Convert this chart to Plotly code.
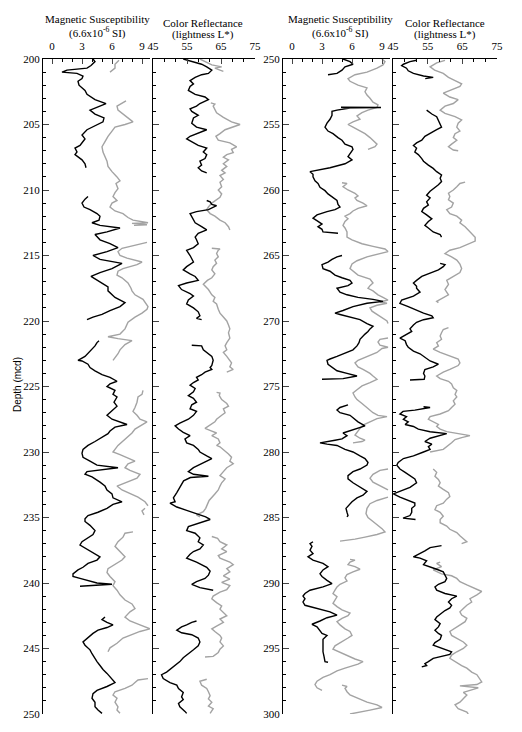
import plotly.graph_objects as go

# ---------------- data: [depth (mcd), value] pairs, None = gap ----------------
ms_top_black = [
 [200.0,4.1],[200.2,4.3],[200.5,3.9],[200.7,3.5],[200.85,1.5],[201.0,1.0],[201.1,2.5],[201.3,3.1],[201.5,3.0],[201.7,2.6],
 [202.0,2.7],[202.4,3.3],[202.7,3.5],[203.1,4.3],[203.4,5.4],[203.6,4.8],[203.9,3.8],[204.2,4.3],[204.5,5.2],[204.8,5.1],
 [205.2,4.1],[205.4,3.5],[205.8,3.0],[206.1,3.3],[206.3,3.1],[206.6,2.8],[206.8,2.3],[207.1,2.5],[207.3,2.3],[207.7,3.0],
 [208.0,3.3],[208.3,3.4], None,
 [210.5,3.6],[210.7,3.3],[211.0,3.0],[211.3,3.2],[211.5,3.8],[211.8,4.5],[212.0,4.8],[212.3,4.7],[212.5,4.0],[212.7,4.8],
 [212.9,6.8],[213.2,5.5],[213.4,4.3],[213.8,4.8],[214.1,5.8],[214.4,6.6],[214.7,5.5],[215.0,4.1],[215.3,4.8],[215.6,7.0],
 [216.0,6.0],[216.3,4.8],[216.6,3.9],[217.0,4.8],[217.4,5.6],[217.7,5.6],[218.0,6.0],[218.2,6.3],[218.6,7.3],[218.9,6.8],
 [219.2,5.8],[219.5,5.0],[219.7,4.1],[219.9,3.5], None,
 [221.5,4.7],[221.65,4.5],[221.9,4.3],[222.2,3.9],[222.5,3.5],[222.7,3.3],[223.0,2.6],[223.05,3.0],[223.3,3.6],[223.55,3.8],
 [223.8,4.3],[224.1,5.0],[224.3,5.8],[224.6,6.5],[224.8,5.8],[225.0,5.5],[225.3,6.3],[225.6,6.1],[225.8,6.5],[226.2,6.2],
 [226.5,6.5],[226.85,6.0],[227.2,5.5],[227.5,6.0],[227.9,7.5],[228.1,6.3],[228.4,5.8],[228.6,5.6],[229.0,4.8],[229.2,4.3],
 [229.5,3.6],[229.8,3.1],[230.1,3.0],[230.4,3.1],[230.7,3.8],[231.0,4.5],[231.2,6.6],[231.35,4.8],[231.5,3.5],[231.7,3.3],
 [231.9,4.0],[232.3,4.8],[232.6,5.3],[232.9,5.5],[233.2,6.0],[233.5,6.1],[233.8,7.0],[234.0,6.1],[234.3,5.5],[234.6,4.6],
 [234.85,3.6],[235.1,3.3],[235.3,3.3],[235.6,3.8],[236.0,4.3],[236.3,4.1],[236.55,3.6],[236.85,3.0],[237.1,2.8],[237.4,3.5],
 [237.75,4.3],[238.0,4.8],[238.25,4.5],[238.5,3.6],[238.8,3.1],[239.0,2.6],[239.3,2.1],[239.5,2.1],[239.65,2.8],[239.85,3.8],
 [240.0,4.5],[240.1,6.0],[240.25,2.8], None,
 [242.6,5.3],[242.8,5.0],[243.0,5.5],[243.2,6.1],[243.4,5.5],[243.6,4.6],[243.85,4.1],[244.2,3.6],[244.5,3.1],[244.75,3.3],
 [245.1,3.8],[245.4,4.0],[245.8,4.3],[246.0,4.5],[246.3,4.8],[246.6,5.1],[246.9,5.5],[247.3,6.0],[247.6,6.3],[247.9,5.5],
 [248.2,4.5],[248.45,4.1],[248.8,4.0],[249.1,4.3],[249.45,4.3],[249.7,4.6],[249.95,5.0],
]
ms_top_gray = [
 [200.1,6.7],[200.4,6.3],[200.7,6.3],[201.0,5.8], None,
 [203.2,7.4],[203.4,7.0],[203.6,6.5],[203.9,6.6],[204.3,7.3],[204.6,7.8],[204.8,8.1],[205.0,7.3],[205.2,6.3],[205.5,6.0],
 [205.9,5.6],[206.3,5.3],[206.7,5.0],[207.1,5.1],[207.5,5.3],[207.8,5.5],[208.2,5.6],[208.6,6.0],[209.0,6.5],[209.3,6.8],
 [209.5,6.4],[209.9,6.6],[210.2,6.3],[210.5,6.1],[210.8,6.5],[211.0,6.0],[211.3,5.8],[211.6,6.3],[211.8,7.1],[212.1,7.6],
 [212.3,8.1],[212.4,9.0],[212.5,9.6],[212.55,8.0],[212.65,9.5],[212.7,8.2], None,
 [214.0,9.5],[214.2,8.5],[214.45,7.0],[214.7,6.6],[215.0,6.8],[215.2,7.5],[215.5,9.0],[215.7,8.5],[216.0,7.1],[216.2,6.6],
 [216.5,6.5],[216.7,7.0],[217.1,7.6],[217.5,7.9],[217.7,8.0],[218.0,8.3],[218.35,9.1],[218.9,9.6],[219.1,9.5],[219.4,9.0],
 [219.7,8.3],[220.1,7.6],[220.6,7.3],[221.0,6.8],[221.2,5.6],[221.35,6.6],[221.5,8.0],[221.8,7.3],[222.2,6.8],[222.5,6.6],
 [222.8,6.3],[223.0,6.1], None,
 [225.3,9.1],[225.6,9.0],[225.8,8.6],[226.2,8.5],[226.6,8.3],[226.9,8.1],[227.2,8.5],[227.5,8.8],[227.7,9.5],[228.0,8.8],
 [228.25,8.3],[228.55,8.0],[228.9,7.5],[229.2,7.1],[229.5,6.6],[229.8,6.3],[230.0,6.1],[230.2,6.8],[230.5,7.6],[230.7,8.3],
 [230.9,7.6],[231.2,7.3],[231.4,7.8],[231.7,8.8],[232.0,8.5],[232.3,7.5],[232.6,6.5],[232.9,7.0],[233.2,7.8],[233.45,8.6],
 [233.8,9.3],[234.1,9.6], None,
 [234.3,9.3],[234.5,9.0],[234.8,9.2], None,
 [236.1,8.1],[236.2,7.3],[236.5,7.1],[236.85,6.6],[237.2,6.3],[237.6,6.8],[238.0,7.3],[238.25,7.0],[238.6,6.3],[238.9,5.6],
 [239.2,5.5],[239.5,5.8],[239.9,6.3],[240.2,6.1],[240.55,6.5],[240.9,6.8],[241.3,7.3],[241.6,8.0],[241.95,8.3],[242.2,7.8],
 [242.6,7.3],[242.9,7.8],[243.2,8.8],[243.5,9.8],[243.7,8.8],[244.0,7.8],[244.2,7.1],[244.6,6.5],[244.95,5.8],[245.25,5.6], None,
 [247.3,9.6],[247.4,8.6],[247.6,8.3],[247.8,8.0],[248.05,7.3],[248.3,6.3],[248.55,6.1],[248.8,6.5],[249.1,6.3],[249.45,6.6],
 [249.7,6.5],[249.95,6.8],
]
cr_top_black = [
 [200.0,53.9],[200.2,56.9],[200.4,59.3],[200.6,60.8],[200.85,62.3],[201.1,61.3],[201.2,59.3],[201.4,57.4],[201.65,55.9],
 [201.9,56.9],[202.1,55.9],[202.4,55.4],[202.7,57.4],[202.9,60.3],[203.1,61.3],[203.4,58.8],[203.6,57.8],[203.8,55.9],
 [204.0,56.4],[204.3,58.3],[204.5,56.9],[204.9,56.4],[205.2,57.8],[205.4,60.8],[205.6,58.8],[205.9,55.9],[206.1,54.9],
 [206.3,56.4],[206.6,58.3],[206.8,60.8],[207.1,59.8],[207.3,60.8],[207.6,60.3],[207.8,58.8],[208.1,59.3],[208.3,58.3],
 [208.55,59.3],[208.7,60.8], None,
 [210.8,60.8],[210.9,61.8],[211.1,62.3],[211.2,63.7],[211.5,61.3],[211.65,57.8],[211.8,55.9],[212.2,56.9],[212.5,57.4],
 [212.8,59.3],[213.05,60.8],[213.3,58.3],[213.6,57.4],[213.8,57.8],[214.1,58.3],[214.4,56.9],[214.6,54.9],[215.0,55.9],
 [215.3,56.4],[215.5,56.9],[215.85,54.9],[216.1,53.9],[216.4,55.9],[216.6,57.4],[216.9,58.3],[217.1,54.9],[217.3,52.5],
 [217.6,53.4],[217.9,55.9],[218.1,56.9],[218.4,55.4],[218.7,54.9],[219.0,56.9],[219.3,58.3],[219.6,58.8],[219.8,57.8],
 [219.9,59.3], None,
 [221.85,56.4],[221.9,59.3],[222.2,59.8],[222.4,60.8],[222.7,62.3],[223.0,62.7],[223.4,62.3],[223.55,61.8],[223.7,62.3],
 [223.9,60.3],[224.1,59.3],[224.3,57.8],[224.5,58.3],[224.7,56.9],[224.9,55.9],[225.15,57.4],[225.4,56.9],[225.7,55.4],
 [225.9,56.9],[226.2,57.8],[226.4,56.4],[226.7,55.9],[226.9,57.8],[227.2,56.9],[227.5,55.4],[227.8,52.9],[228.0,51.5],
 [228.25,52.5],[228.5,53.9],[228.75,55.9],[229.0,54.4],[229.3,54.9],[229.5,56.9],[229.8,58.3],[230.0,58.8],[230.3,60.8],
 [230.5,62.3],[230.7,60.8],[231.0,58.3],[231.2,56.9],[231.5,55.4],[231.7,56.9],[231.85,61.3],[231.95,56.0],[232.2,54.0],
 [232.7,53.0],[233.1,52.0],[233.5,51.0],[233.8,51.5],[233.9,50.0],[234.2,52.0],[234.45,54.9],[234.7,57.8],[234.95,60.5],
 [235.15,61.8],[235.4,58.8],[235.7,55.4],[236.0,54.9],[236.2,57.4],[236.55,58.8],[236.85,58.3],[237.1,59.8],[237.4,58.8],
 [237.6,56.9],[237.8,55.9],[238.1,54.9],[238.4,57.8],[238.8,60.8],[239.1,61.8],[239.4,61.3],[239.65,60.3],[239.9,57.8],
 [240.1,56.4],[240.35,58.8],[240.55,62.7], None,
 [242.9,57.8],[243.0,56.4],[243.2,54.9],[243.35,53.4],[243.6,52.0],[243.8,53.4],[243.95,56.4],[244.2,58.3],[244.5,58.8],
 [244.8,58.3],[245.1,56.9],[245.4,55.4],[245.7,53.9],[246.0,52.9],[246.3,51.5],[246.5,50.5],[246.8,49.0],[247.0,47.5],
 [247.3,48.0],[247.6,50.0],[247.8,52.0],[248.05,52.5],[248.35,53.9],[248.7,53.4],[248.9,53.9],[249.2,52.5],[249.45,52.9],
 [249.8,54.4],[249.95,54.9],
]
cr_top_gray = [
 [200.0,58.8],[200.2,60.3],[200.45,62.3],[200.6,65.2],[200.7,63.2],[200.85,64.7],[200.95,65.7], None,
 [203.35,62.0],[203.45,63.2],[203.6,62.7],[203.9,63.2],[204.1,63.7],[204.45,65.7],[204.8,68.1],[205.0,70.6],[205.2,68.6],
 [205.4,66.2],[205.7,64.7],[205.9,63.5],[206.2,64.2],[206.4,67.6],[206.7,69.6],[206.9,68.1],[207.15,68.6],[207.3,66.7],
 [207.5,65.7],[207.7,67.2],[208.0,65.7],[208.2,66.7],[208.5,65.2],[208.7,66.2],[208.9,64.7],[209.2,65.7],[209.4,64.7],
 [209.75,65.2],[210.0,64.2],[210.3,65.2],[210.55,64.7],[210.8,63.2],[211.0,62.3],[211.3,61.3],[211.5,60.8],[211.8,61.8],
 [212.0,63.2],[212.3,64.7],[212.5,66.2],[212.8,67.2],[213.05,67.6], None,
 [214.45,62.3],[214.5,64.7],[214.6,64.2],[214.85,63.7],[215.1,64.2],[215.35,63.2],[215.6,63.7],[215.85,62.7],[216.1,62.3],
 [216.4,63.2],[216.7,62.3],[216.9,61.0],[217.2,59.8],[217.6,61.3],[218.0,62.3],[218.2,63.2],[218.5,62.7],[218.7,63.7],
 [219.1,64.2],[219.4,64.7],[219.7,65.7],[220.0,66.7],[220.3,67.2],[220.6,67.6],[220.9,67.2],[221.3,67.6],[221.65,66.7],
 [221.9,66.2],[222.2,66.7],[222.4,65.7],[222.7,66.7],[222.9,67.2],[223.2,68.1],[223.5,67.6],[223.7,68.6],[223.9,66.7], None,
 [225.45,63.7],[225.5,64.7],[225.7,64.5],[226.0,65.2],[226.3,66.7],[226.5,67.2],[226.7,65.7],[227.0,66.2],[227.2,65.2],
 [227.5,63.7],[227.7,63.2],[228.0,61.3],[228.2,60.3],[228.4,62.3],[228.55,63.7],[228.75,62.3],[229.0,64.2],[229.3,64.7],
 [229.5,63.7],[229.6,64.7],[229.9,66.2],[230.15,67.2],[230.4,68.1],[230.7,67.6],[230.9,68.6],[231.2,66.7],[231.5,65.7],
 [231.8,64.7],[232.05,66.2],[232.35,65.2],[232.6,64.7],[232.9,64.2],[233.2,63.2],[233.45,62.3],[233.7,61.5],[234.0,61.0],
 [234.3,60.5],[234.55,59.8],[234.8,57.8],[234.95,58.8], None,
 [236.45,62.3],[236.6,64.0],[236.85,64.7],[237.1,66.7],[237.4,65.2],[237.6,66.7],[237.9,64.2],[238.1,64.7],[238.4,67.6],
 [238.6,68.6],[238.9,66.7],[239.15,67.6],[239.45,65.7],[239.7,67.6],[239.95,65.2],[240.2,67.6],[240.5,66.7],[240.7,64.7],
 [241.0,62.7],[241.2,62.3],[241.5,63.7],[241.75,65.2],[242.0,64.7],[242.25,65.7],[242.5,66.7],[242.75,64.7],[243.0,65.7],
 [243.3,63.7],[243.5,62.3],[243.7,63.2],[244.0,64.7],[244.2,65.2],[244.5,64.7],[244.8,65.7],[245.05,64.7],[245.3,64.2],
 [245.6,62.7],[245.65,60.3], None,
 [247.35,60.8],[247.5,58.8],[247.8,59.3],[248.05,60.8],[248.3,61.3],[248.6,61.8],[248.85,61.3],[249.1,62.3],[249.4,61.3],
 [249.6,62.7],[249.95,61.8],
]
ms_bot_black = [
 [250.0,5.1],[250.2,5.8],[250.4,6.1],[250.6,5.3],[250.85,5.0],[251.1,4.5],[251.2,3.6], None,
 [253.68,4.9],[253.7,8.9],[253.74,5.8],[253.9,4.5],[254.0,4.0],[254.3,4.0],[254.6,3.8],[254.9,3.5],[255.2,3.3],[255.5,3.6],
 [255.7,4.1],[256.0,4.6],[256.2,5.0],[256.5,5.3],[256.7,6.0],[256.9,6.1],[257.2,5.8],[257.45,5.6],[257.7,6.0],[258.0,5.3],
 [258.3,3.8],[258.5,2.3],[258.6,1.8],[258.8,2.1],[259.0,2.1],[259.3,2.3],[259.5,2.6],[259.8,2.8],[260.05,3.3],[260.3,3.6],
 [260.55,4.0],[260.8,4.5],[261.1,4.6],[261.3,4.8],[261.5,4.3],[261.65,3.5],[261.9,2.5],[262.15,2.1],[262.4,2.6],[262.6,3.0],
 [262.8,2.6],[263.0,3.0],[263.2,3.1],[263.3,4.6], None,
 [265.0,5.0],[265.1,4.5],[265.3,4.0],[265.5,3.6],[265.7,3.0],[266.0,3.1],[266.2,3.8],[266.5,4.3],[266.7,5.0],[266.9,5.8],
 [267.1,6.0],[267.3,5.6],[267.5,4.5],[267.8,4.8],[268.0,5.5],[268.2,6.6],[268.35,8.1],[268.5,9.1],[268.65,7.5],[268.9,6.1],
 [269.2,5.1],[269.4,4.3],[269.5,4.8],[269.7,5.8],[269.9,6.8],[270.2,7.5],[270.4,8.1],[270.6,7.8],[270.8,7.6],[271.0,7.3],
 [271.2,7.0],[271.4,6.8],[271.65,6.7],[271.9,6.5],[272.2,6.1],[272.4,5.5],[272.7,4.5],[272.9,3.8],[273.0,3.5],[273.3,3.6],
 [273.55,4.0],[273.8,4.5],[274.0,5.5],[274.2,6.5],[274.4,5.1],[274.45,3.0], None,
 [276.4,5.6],[276.6,4.8],[276.8,4.5],[277.0,4.8],[277.2,5.8],[277.5,6.3],[277.7,6.6],[278.0,7.3],[278.2,6.5],[278.4,5.5],
 [278.55,5.1],[278.75,5.5],[279.0,5.0],[279.1,4.3],[279.3,2.8],[279.4,3.5],[279.5,4.5],[279.8,5.3],[280.0,6.1],[280.3,6.8],
 [280.5,7.3],[280.8,7.6],[281.0,7.5],[281.3,6.8],[281.5,6.1],[281.8,5.6],[282.05,5.6],[282.35,6.1],[282.7,6.8],[283.0,7.5],
 [283.3,7.1],[283.5,6.5],[283.8,6.0],[284.1,5.6],[284.3,5.4],[284.6,5.5],[284.85,5.6],[284.95,5.5], None,
 [286.85,2.1],[287.0,1.8],[287.2,2.0],[287.5,1.8],[287.75,2.1],[288.0,1.6],[288.25,2.1],[288.5,3.1],[288.75,3.6],[289.0,3.1],
 [289.3,2.8],[289.5,3.0],[289.8,3.5],[290.05,4.0],[290.3,3.1],[290.55,1.8],[290.8,1.3],[291.0,1.1],[291.2,1.3],[291.45,1.1],
 [291.7,1.3],[291.95,2.5],[292.2,3.8],[292.45,4.5],[292.65,3.5],[292.9,2.8],[293.15,2.0],[293.35,2.5],[293.6,2.8],[293.85,3.0],
 [294.0,3.5],[294.3,3.1],[294.55,3.1],[294.9,3.1],[295.25,3.1],[295.6,3.2],[296.0,3.3],[296.05,3.6],
]
ms_bot_gray = [
 [250.0,9.0],[250.2,9.3],[250.45,9.1],[250.7,8.5],[251.0,7.5],[251.2,6.3],[251.5,5.6],[251.7,5.8],[252.0,6.6],[252.2,7.5],
 [252.5,7.3],[252.75,7.5],[253.0,7.8],[253.3,8.1],[253.5,8.6],[253.7,8.5],[253.9,7.6],[254.1,7.0],[254.35,6.5],[254.6,6.8],
 [254.8,6.1],[255.0,5.6],[255.2,6.1],[255.5,6.8],[255.7,7.3],[256.0,7.8],[256.2,8.1],[256.5,8.5],[256.7,8.3],[256.9,7.6], None,
 [259.45,5.0],[259.5,5.5],[259.75,5.1],[260.0,5.6],[260.25,6.3],[260.45,6.6],[260.6,6.3],[260.8,6.5],[261.0,7.1],[261.2,7.5],
 [261.4,6.6],[261.6,6.1],[261.8,5.8],[262.0,5.3],[262.2,5.6],[262.4,5.3],[262.7,5.1],[262.9,5.3],[263.2,5.5],[263.6,5.5],
 [263.8,6.0],[264.1,7.0],[264.3,8.1],[264.5,9.3],[264.7,9.6],[264.85,8.8],[265.1,7.5],[265.4,6.5],[265.65,6.0],[266.0,5.8],
 [266.2,6.1],[266.5,6.6],[266.8,7.8],[267.1,8.1],[267.3,7.8],[267.5,7.6],[267.7,8.1],[268.0,8.6],[268.2,9.1],[268.4,9.6],
 [268.55,8.8],[268.65,9.5],[268.8,8.5],[269.0,7.8],[269.25,8.0],[269.5,8.5],[269.75,9.0],[270.0,9.5],[270.2,9.6], None,
 [271.3,9.6],[271.4,8.8],[271.6,8.6],[271.85,8.8],[272.0,9.6],[272.1,9.0],[272.4,8.5],[272.7,7.5],[273.0,6.6],[273.2,6.3],
 [273.5,6.6],[273.7,7.1],[274.0,7.8],[274.2,8.1],[274.45,8.5],[274.7,7.8],[274.95,7.0],[275.25,6.5],[275.5,6.1],[275.8,6.3],
 [276.0,6.5],[276.3,7.0],[276.5,7.3],[276.8,7.8],[277.0,8.1],[277.2,8.6],[277.3,9.5],[277.45,8.5],[277.7,7.8],[277.95,7.1],
 [278.2,6.8],[278.45,6.5],[278.7,6.3],[278.95,6.8],[279.1,7.3],[279.2,7.0],[279.3,6.1], None,
 [281.3,9.6],[281.4,8.8],[281.7,8.1],[282.0,7.8],[282.3,8.1],[282.6,8.8],[282.9,9.6], None,
 [283.45,9.6],[283.7,8.5],[283.95,7.8],[284.3,7.5],[284.7,7.4],[285.0,7.6],[285.3,8.1],[285.6,8.6],[285.85,9.0],[286.1,9.3],
 [286.3,8.5],[286.5,7.3],[286.65,6.3],[286.8,4.8], None,
 [288.2,5.8],[288.25,6.3],[288.4,5.8],[288.6,5.6],[288.75,6.3],[288.95,6.8],[289.15,6.1],[289.35,5.5],[289.6,5.3],[289.85,5.5],
 [290.1,4.8],[290.3,4.5],[290.55,4.3],[290.8,4.1],[291.05,4.5],[291.3,4.3],[291.55,4.1],[291.8,4.5],[292.05,5.0],[292.3,5.8],
 [292.5,5.6],[292.7,5.0],[292.95,4.5],[293.2,4.8],[293.5,5.3],[293.7,5.8],[294.0,6.0],[294.2,5.6],[294.55,4.8],[294.8,4.3],
 [295.05,4.1],[295.3,4.8],[295.55,5.6],[295.8,6.3],[296.0,7.1],[296.2,6.6],[296.5,5.3],[296.7,4.5],[297.0,3.8],[297.2,3.1],
 [297.5,2.5],[297.75,2.3],[298.0,2.5],[298.2,3.0], None,
 [297.8,5.0],[297.9,5.5],[298.05,5.3],[298.3,5.5],[298.55,5.8],[298.8,6.6],[299.1,7.5],[299.3,8.5],[299.5,9.0],[299.7,7.8],
 [299.9,6.5],[300.0,5.8],
]
cr_bot_black = [
 [250.1,51.8],[250.2,49.9],[250.4,48.0],[250.5,47.5],[250.7,48.9],[250.9,49.4],[251.1,50.9],[251.3,53.8],[251.4,56.6],
 [251.5,54.3], None,
 [253.9,54.7],[254.0,55.2],[254.2,56.2],[254.4,57.6],[254.65,58.1],[254.9,58.6],[255.2,59.0],[255.4,57.6],[255.7,55.7],
 [255.9,54.2],[256.2,53.3],[256.4,51.8],[256.6,50.9],[256.8,51.8],[257.1,51.3],[257.3,52.3],[257.6,53.3],[257.8,53.8],
 [258.1,55.2],[258.35,56.6],[258.6,57.6],[258.85,59.0],[259.1,58.6],[259.35,59.0],[259.6,58.1],[259.9,56.6],[260.1,55.7],
 [260.4,54.7],[260.6,55.7],[260.9,54.7],[261.15,55.2],[261.4,53.8],[261.65,53.3],[261.9,54.7],[262.2,56.2],[262.4,55.2],
 [262.7,54.2],[262.9,55.2],[263.2,56.6],[263.4,58.6],[263.6,59.0], None,
 [265.6,58.6],[265.7,60.0],[265.85,59.5],[266.1,58.1],[266.35,55.7],[266.6,53.3],[266.9,51.8],[267.1,50.9],[267.35,51.8],
 [267.5,51.8],[267.8,52.8],[268.1,50.9],[268.4,47.5],[268.65,47.0],[268.9,49.4],[269.2,51.8],[269.4,53.8],[269.6,56.2],
 [269.75,56.6],[269.9,53.8],[270.1,51.8],[270.3,50.9],[270.6,49.9],[270.8,50.4],[271.1,48.5],[271.3,47.0],[271.5,48.5],
 [271.8,48.9],[272.0,49.4],[272.3,50.9],[272.5,52.8],[272.8,54.2],[273.05,55.7],[273.3,58.1],[273.5,56.6],[273.7,54.2],
 [274.0,53.8],[274.2,54.2],[274.45,54.0],[274.5,49.9], None,
 [276.55,53.8],[276.6,55.7],[276.8,51.3],[276.9,47.9],[277.1,47.0],[277.3,48.9],[277.5,48.0],[277.7,49.4],[277.9,48.5],
 [278.05,50.9],[278.25,52.3],[278.45,55.7],[278.6,60.5],[278.75,58.6],[278.95,55.7],[279.2,54.2],[279.4,56.2],[279.6,55.2],
 [279.8,55.7],[280.0,53.8],[280.3,50.9],[280.5,48.0],[280.8,46.5],[281.0,46.1],[281.3,47.0],[281.55,48.5],[281.8,49.9],
 [282.05,51.3],[282.35,51.8],[282.7,49.9],[282.95,47.5],[283.2,45.1],[283.45,47.0],[283.7,49.4],[283.9,51.3],[284.1,51.3],
 [284.3,50.4],[284.6,50.4],[284.85,49.9],[285.05,47.9],[285.15,51.5], None,
 [287.15,59.0],[287.2,57.6],[287.3,55.7],[287.55,54.2],[287.8,52.3],[288.0,50.9],[288.1,52.8],[288.3,54.7],[288.6,53.8],
 [288.75,55.7],[288.95,57.6],[289.15,59.5],[289.4,60.0],[289.65,60.5],[289.9,60.0],[290.1,58.1],[290.3,57.1],[290.55,57.6],
 [290.8,60.0],[291.0,63.4],[291.2,61.9],[291.45,61.0],[291.7,61.9],[291.9,61.4],[292.1,60.0],[292.3,59.0],[292.6,57.6],
 [292.8,57.1],[293.1,58.6],[293.35,58.1],[293.6,57.1],[293.85,58.1],[294.0,59.0],[294.3,58.6],[294.55,57.1],[294.75,56.6],
 [295.0,59.5],[295.25,61.9],[295.45,61.4],[295.6,58.6],[295.75,56.6],[296.0,55.2],[296.15,54.2],[296.3,54.7],[296.4,53.3],
]
cr_bot_gray = [
 [250.1,60.0],[250.3,57.6],[250.6,55.7],[250.85,57.0],[251.1,59.5],[251.4,61.0],[251.65,62.9],[251.9,64.8],[252.1,64.3],
 [252.4,61.4],[252.6,59.5],[252.9,61.4],[253.1,63.8],[253.4,62.4],[253.6,60.0],[253.9,58.6],[254.15,60.0],[254.4,62.9],
 [254.65,64.8],[254.9,63.8],[255.2,63.4],[255.5,64.3],[255.7,62.9],[256.0,62.4],[256.2,63.4],[256.5,61.9],[256.7,61.0],
 [256.95,62.4],[257.0,63.8], None,
 [259.4,65.8],[259.5,64.3],[259.75,63.4],[260.0,62.4],[260.25,61.0],[260.5,61.4],[260.75,61.0],[261.0,62.4],[261.3,61.9],
 [261.5,60.5],[261.8,61.4],[262.0,63.4],[262.3,64.8],[262.5,64.3],[262.8,65.8],[263.05,66.7],[263.3,67.7],[263.6,68.7],
 [263.9,68.7],[264.1,66.7],[264.4,64.3],[264.6,61.4],[264.85,60.0],[265.1,61.9],[265.35,63.4],[265.65,64.3],[266.0,64.8],
 [266.3,64.3],[266.6,62.4],[266.9,60.5],[267.2,61.0],[267.6,60.0],[268.0,61.0],[268.2,59.5],[268.5,57.6],[268.6,58.1], None,
 [270.5,61.0],[270.65,59.5],[270.9,59.0],[271.15,58.6],[271.4,59.0],[271.65,57.6],[271.9,58.1],[272.15,56.6],[272.4,58.6],
 [272.65,61.4],[272.9,63.8],[273.2,64.3],[273.4,63.8],[273.7,61.4],[273.9,59.5],[274.2,57.6],[274.4,58.6],[274.6,61.0],
 [274.8,61.9],[275.1,62.4],[275.3,63.4],[275.6,62.9],[275.8,63.4],[276.1,62.4],[276.35,62.9],[276.6,61.9],[276.85,61.0],
 [277.1,58.6],[277.3,55.7],[277.5,55.2],[277.7,56.6],[277.9,58.1],[278.05,57.6],[278.25,58.6],[278.45,60.5],[278.6,64.3],
 [278.75,67.2],[278.9,64.8],[279.05,62.9],[279.3,61.9],[279.5,61.0],[279.8,59.5],[280.0,55.7], None,
 [281.3,56.6],[281.55,57.6],[281.85,57.1],[282.1,58.1],[282.35,58.6],[282.6,58.1],[282.85,59.5],[283.1,61.0],[283.4,61.4],
 [283.6,60.5],[283.9,59.5],[284.1,57.6],[284.4,57.1],[284.6,58.6],[284.9,59.5],[285.15,58.6],[285.4,58.6],[285.65,60.5],
 [285.9,61.4],[286.15,63.4],[286.4,64.3],[286.65,65.3],[286.85,66.3],[287.0,64.8], None,
 [288.4,58.6],[288.5,57.6],[288.75,59.0],[289.0,56.6],[289.3,59.0],[289.45,61.9],[289.65,63.4],[289.9,64.3],[290.15,66.3],
 [290.4,68.7],[290.65,70.6],[290.9,69.2],[291.2,67.2],[291.45,67.7],[291.7,66.3],[291.95,65.3],[292.2,64.3],[292.45,64.8],
 [292.7,66.3],[292.95,65.8],[293.2,64.3],[293.5,62.9],[293.7,61.4],[294.0,61.9],[294.25,63.8],[294.5,65.3],[294.75,66.3],
 [295.0,65.3],[295.25,63.4],[295.5,61.9],[295.75,61.4],[296.0,62.9],[296.3,64.8],[296.5,66.3],[296.8,67.7],[297.0,69.2],
 [297.3,70.1],[297.55,70.6],[297.75,69.2],[297.85,64.3],[298.0,69.6],[298.2,67.2],[298.35,65.3],[298.55,66.3],[298.8,65.3],
 [299.1,64.3],[299.3,62.9],[299.6,63.8],[299.85,66.3],[300.0,66.7],
]

ms_ticks = [0, 3, 6, 9]
cr_ticks = [45, 55, 65, 75]
top_depth = [200, 250]
bot_depth = [250, 300]

# ---------------- figure ----------------
W, H = 522, 732
OFF = 8  # the page body adds an 8px margin around the figure
BLACK = "#000000"
GRAY = "#a3a3a3"
SERIF = "Liberation Serif"
SANS = "Liberation Sans"


def split(pairs):
    d = [p[0] if p else None for p in pairs]
    v = [p[1] if p else None for p in pairs]
    return d, v


def fx(x):
    return (x - OFF) / W


def fy(y):
    return 1 - (y - OFF) / H


ydom = [fy(714), fy(59)]
panels = [
    ((43, 150), [-0.9, 9.8], ms_ticks, top_depth, ms_top_gray, ms_top_black, True, 1),
    ((153, 255), [45, 75], cr_ticks, top_depth, cr_top_gray, cr_top_black, False, 10 / 3),
    ((283, 390), [-0.9, 9.8], ms_ticks, bot_depth, ms_bot_gray, ms_bot_black, True, 1),
    ((393, 497), [45, 75], cr_ticks, bot_depth, cr_bot_gray, cr_bot_black, False, 10 / 3),
]

fig = go.Figure()
layout = dict(
    width=W, height=H, margin=dict(l=0, r=0, t=0, b=0, pad=0, autoexpand=False),
    paper_bgcolor="white", plot_bgcolor="white", showlegend=False,
    font=dict(family=SERIF, size=11, color="black"),
)
for i, (xd, xr, tks, yd, gray, black, showy, mdt) in enumerate(panels, start=1):
    xa = "x" if i == 1 else f"x{i}"
    ya = "y" if i == 1 else f"y{i}"
    for series, col in ((gray, GRAY), (black, BLACK)):
        d, v = split(series)
        fig.add_trace(go.Scatter(x=v, y=d, mode="lines", xaxis=xa, yaxis=ya,
                                 line=dict(color=col, width=1.4), connectgaps=False,
                                 hoverinfo="skip"))
    layout["xaxis" if i == 1 else f"xaxis{i}"] = dict(
        domain=[fx(xd[0]), fx(xd[1])], range=xr, anchor=ya, side="top", automargin=False,
        tickmode="array", tickvals=tks, ticks="inside", ticklen=5, tickwidth=1,
        minor=dict(dtick=mdt, tick0=tks[0], ticks="inside", ticklen=3, tickwidth=1, tickcolor="black"),
        showline=True, linecolor="black", linewidth=1, showgrid=False, zeroline=False,
        tickfont=dict(family=SERIF, size=11), ticklabelstandoff=4,
    )
    layout["yaxis" if i == 1 else f"yaxis{i}"] = dict(
        domain=ydom, range=[yd[1], yd[0]], anchor=xa, automargin=False,
        tickmode="linear", tick0=yd[0], dtick=5, ticks="inside", ticklen=6, tickwidth=1,
        minor=dict(dtick=1, ticks="inside", ticklen=3, tickwidth=1, tickcolor="black"),
        showline=True, linecolor="black", linewidth=1, showgrid=False, zeroline=False,
        showticklabels=showy, tickfont=dict(family=SERIF, size=11),
    )

ann = []
def add_text(text, xp, yp, size=11, fam=SERIF, angle=0):
    ann.append(dict(text=text, x=fx(xp), y=fy(yp), xref="paper", yref="paper",
                    showarrow=False, xanchor="center", yanchor="middle",
                    font=dict(family=fam, size=size, color="black"), textangle=angle))

for cx in (97, 340):
    add_text("Magnetic Susceptibility", cx, 19)
    add_text("(6.6x10<sup>-6</sup> SI)", cx, 33)
for cx in (203, 445):
    add_text("Color Reflectance", cx, 23)
    add_text("(lightness L*)", cx, 35)
add_text("Depth (mcd)", 17, 385, size=10, fam=SANS, angle=-90)
layout["annotations"] = ann

fig.update_layout(**layout)
fig.write_html("out.html")
